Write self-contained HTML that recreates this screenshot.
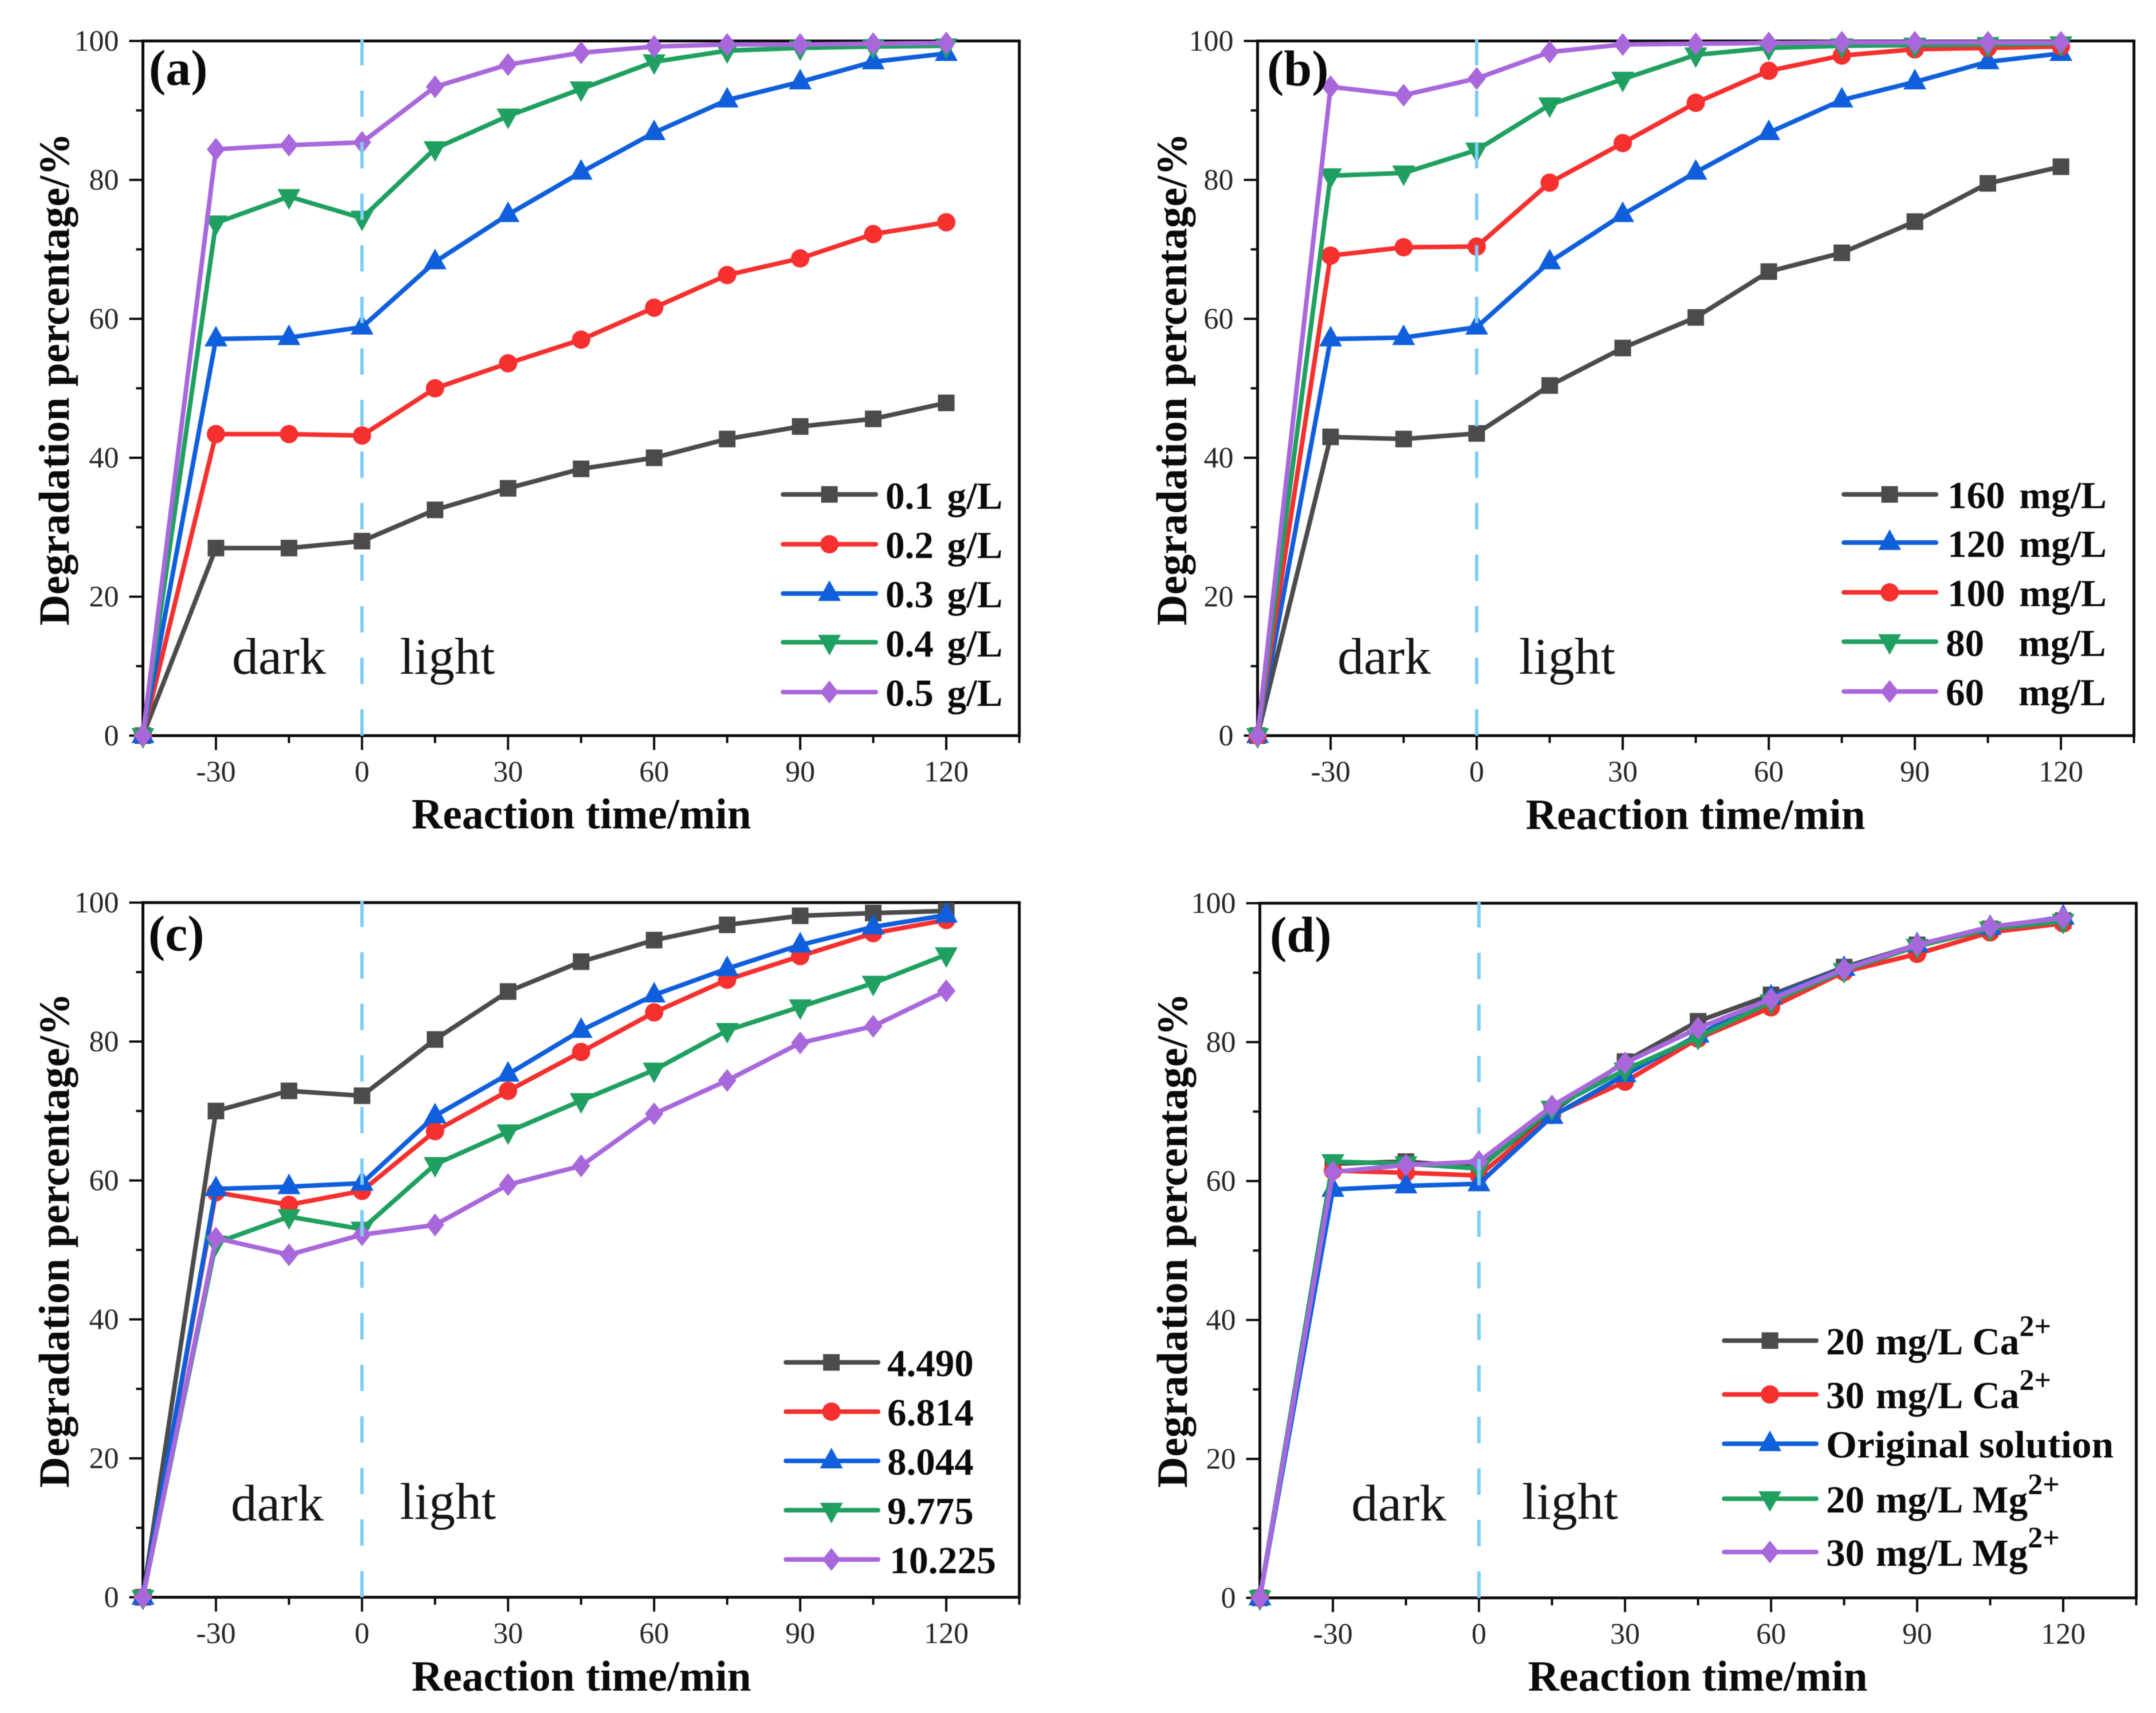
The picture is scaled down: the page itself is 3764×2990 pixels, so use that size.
<!DOCTYPE html>
<html lang="en">
<head>
<meta charset="utf-8">
<title>Degradation percentage vs reaction time</title>
<style>
  html, body { margin: 0; padding: 0; background: #fff; }
  body { width: 3764px; height: 2990px; overflow: hidden; }
  svg { display: block; filter: blur(0.9px); }
  text { font-family: "Liberation Serif", serif; fill: #0a0a0a; }
  .title { font-size: 75px; font-weight: bold; }
  .panel-label { font-size: 88px; font-weight: bold; }
  .phase { font-size: 90px; fill: #151515; }
  .leg { font-size: 67px; font-weight: bold; }
  .sup { font-size: 52px; font-weight: bold; }
  .tick-text { font-size: 52px; fill: #262626; }
  .ln { stroke-width: 8; fill: none; stroke-linecap: round; }
  .gray { stroke: #4b4b4b; fill: #4b4b4b; }
  .red { stroke: #f5302f; fill: #f5302f; }
  .blue { stroke: #0f5fdc; fill: #0f5fdc; }
  .green { stroke: #1fa060; fill: #1fa060; }
  .purple { stroke: #a868dc; fill: #a868dc; }
  use { stroke: none; }
</style>
</head>
<body>
<svg id="figure" xmlns="http://www.w3.org/2000/svg" width="3764" height="2990" viewBox="0 0 3764 2990">
  <defs>
    <rect id="mk-square" x="-14.5" y="-14.5" width="29" height="29" stroke="none"/>
    <circle id="mk-circle" r="16" stroke="none"/>
    <polygon id="mk-tri" points="0,-23 20,13 -20,13" stroke="none"/>
    <polygon id="mk-inv" points="-20,-13 20,-13 0,23" stroke="none"/>
    <polygon id="mk-diamond" points="0,-20 16,0 0,20 -16,0" stroke="none"/>
  </defs>

  <!-- Panel (a) -->
  <g id="panel-a">
    <g id="plot-a"></g>
    <text class="panel-label" x="260" y="148">(a)</text>
    <text class="title" x="1015" y="1446" text-anchor="middle" textLength="593" lengthAdjust="spacingAndGlyphs">Reaction time/min</text>
    <text class="title" transform="translate(120 662) rotate(-90)" text-anchor="middle" textLength="860" lengthAdjust="spacingAndGlyphs">Degradation percentage/%</text>
    <text class="phase" x="405" y="1176" textLength="164" lengthAdjust="spacingAndGlyphs">dark</text>
    <text class="phase" x="698" y="1176" textLength="166" lengthAdjust="spacingAndGlyphs">light</text>
    <g>
      <g><line class="ln gray" x1="1367" x2="1529" y1="863" y2="863"/><use href="#mk-square" class="gray" x="1448" y="863"/><text class="leg" x="1546" y="888" word-spacing="7">0.1 g/L</text></g>
      <g><line class="ln red" x1="1367" x2="1529" y1="950" y2="950"/><use href="#mk-circle" class="red" x="1448" y="950"/><text class="leg" x="1546" y="974" word-spacing="7">0.2 g/L</text></g>
      <g><line class="ln blue" x1="1367" x2="1529" y1="1036" y2="1036"/><use href="#mk-tri" class="blue" x="1448" y="1036"/><text class="leg" x="1546" y="1060" word-spacing="7">0.3 g/L</text></g>
      <g><line class="ln green" x1="1367" x2="1529" y1="1121" y2="1121"/><use href="#mk-inv" class="green" x="1448" y="1121"/><text class="leg" x="1546" y="1146" word-spacing="7">0.4 g/L</text></g>
      <g><line class="ln purple" x1="1367" x2="1529" y1="1208" y2="1208"/><use href="#mk-diamond" class="purple" x="1448" y="1208"/><text class="leg" x="1546" y="1232" word-spacing="7">0.5 g/L</text></g>
    </g>
  </g>

  <!-- Panel (b) -->
  <g id="panel-b">
    <g id="plot-b"></g>
    <text class="panel-label" x="2212" y="149">(b)</text>
    <text class="title" x="2960" y="1447" text-anchor="middle" textLength="593" lengthAdjust="spacingAndGlyphs">Reaction time/min</text>
    <text class="title" transform="translate(2071 662) rotate(-90)" text-anchor="middle" textLength="860" lengthAdjust="spacingAndGlyphs">Degradation percentage/%</text>
    <text class="phase" x="2335" y="1176" textLength="163" lengthAdjust="spacingAndGlyphs">dark</text>
    <text class="phase" x="2652" y="1176" textLength="168" lengthAdjust="spacingAndGlyphs">light</text>
    <g>
      <g><line class="ln gray" x1="3219" x2="3380" y1="863" y2="863"/><use href="#mk-square" class="gray" x="3299" y="863"/><text class="leg" x="3400" y="887" word-spacing="8">160 mg/L</text></g>
      <g><line class="ln blue" x1="3219" x2="3380" y1="947" y2="947"/><use href="#mk-tri" class="blue" x="3299" y="947"/><text class="leg" x="3400" y="972" word-spacing="8">120 mg/L</text></g>
      <g><line class="ln red" x1="3219" x2="3380" y1="1034" y2="1034"/><use href="#mk-circle" class="red" x="3299" y="1034"/><text class="leg" x="3400" y="1058" word-spacing="8">100 mg/L</text></g>
      <g><line class="ln green" x1="3219" x2="3380" y1="1120" y2="1120"/><use href="#mk-inv" class="green" x="3299" y="1120"/><text class="leg" x="3397" y="1145">80<tspan x="3524">mg/L</tspan></text></g>
      <g><line class="ln purple" x1="3219" x2="3380" y1="1207" y2="1207"/><use href="#mk-diamond" class="purple" x="3299" y="1207"/><text class="leg" x="3397" y="1231">60<tspan x="3524">mg/L</tspan></text></g>
    </g>
  </g>

  <!-- Panel (c) -->
  <g id="panel-c">
    <g id="plot-c"></g>
    <text class="panel-label" x="259" y="1659">(c)</text>
    <text class="title" x="1015" y="2951" text-anchor="middle" textLength="593" lengthAdjust="spacingAndGlyphs">Reaction time/min</text>
    <text class="title" transform="translate(120 2165) rotate(-90)" text-anchor="middle" textLength="864" lengthAdjust="spacingAndGlyphs">Degradation percentage/%</text>
    <text class="phase" x="403" y="2654" textLength="162" lengthAdjust="spacingAndGlyphs">dark</text>
    <text class="phase" x="698" y="2651" textLength="168" lengthAdjust="spacingAndGlyphs">light</text>
    <g>
      <g><line class="ln gray" x1="1372" x2="1533" y1="2378" y2="2378"/><use href="#mk-square" class="gray" x="1451.5" y="2378"/><text class="leg" x="1549" y="2402">4.490</text></g>
      <g><line class="ln red" x1="1372" x2="1533" y1="2464" y2="2464"/><use href="#mk-circle" class="red" x="1451.5" y="2464"/><text class="leg" x="1549" y="2488">6.814</text></g>
      <g><line class="ln blue" x1="1372" x2="1533" y1="2550" y2="2550"/><use href="#mk-tri" class="blue" x="1451.5" y="2550"/><text class="leg" x="1549" y="2574">8.044</text></g>
      <g><line class="ln green" x1="1372" x2="1533" y1="2636" y2="2636"/><use href="#mk-inv" class="green" x="1451.5" y="2636"/><text class="leg" x="1549" y="2660">9.775</text></g>
      <g><line class="ln purple" x1="1372" x2="1533" y1="2722" y2="2722"/><use href="#mk-diamond" class="purple" x="1451.5" y="2722"/><text class="leg" x="1553" y="2746" textLength="186" lengthAdjust="spacingAndGlyphs">10.225</text></g>
    </g>
  </g>

  <!-- Panel (d) -->
  <g id="panel-d">
    <g id="plot-d"></g>
    <text class="panel-label" x="2217" y="1661">(d)</text>
    <text class="title" x="2964" y="2951" text-anchor="middle" textLength="593" lengthAdjust="spacingAndGlyphs">Reaction time/min</text>
    <text class="title" transform="translate(2072 2165) rotate(-90)" text-anchor="middle" textLength="864" lengthAdjust="spacingAndGlyphs">Degradation percentage/%</text>
    <text class="phase" x="2359" y="2654" textLength="166" lengthAdjust="spacingAndGlyphs">dark</text>
    <text class="phase" x="2657" y="2651" textLength="168" lengthAdjust="spacingAndGlyphs">light</text>
    <g>
      <g><line class="ln gray" x1="3010" x2="3171" y1="2340" y2="2340"/><use href="#mk-square" class="gray" x="3090" y="2340"/><text class="leg" x="3188" y="2364" word-spacing="3">20 mg/L Ca<tspan class="sup" dy="-32">2+</tspan></text></g>
      <g><line class="ln red" x1="3010" x2="3171" y1="2434" y2="2434"/><use href="#mk-circle" class="red" x="3090" y="2434"/><text class="leg" x="3188" y="2458" word-spacing="3">30 mg/L Ca<tspan class="sup" dy="-32">2+</tspan></text></g>
      <g><line class="ln blue" x1="3010" x2="3171" y1="2520" y2="2520"/><use href="#mk-tri" class="blue" x="3090" y="2520"/><text class="leg" x="3188" y="2544" textLength="502" lengthAdjust="spacingAndGlyphs">Original solution</text></g>
      <g><line class="ln green" x1="3010" x2="3171" y1="2616" y2="2616"/><use href="#mk-inv" class="green" x="3090" y="2616"/><text class="leg" x="3188" y="2640" word-spacing="3">20 mg/L Mg<tspan class="sup" dy="-32">2+</tspan></text></g>
      <g><line class="ln purple" x1="3010" x2="3171" y1="2709" y2="2709"/><use href="#mk-diamond" class="purple" x="3090" y="2709"/><text class="leg" x="3188" y="2733" word-spacing="3">30 mg/L Mg<tspan class="sup" dy="-32">2+</tspan></text></g>
    </g>
  </g>
</svg>

<script>
// ---------- Shared axis data ----------
const times = [-45, -30, -15, 0, 15, 30, 45, 60, 75, 90, 105, 120];
const xMajorTicks = [-30, 0, 30, 60, 90, 120];
const xMinorTicks = [-45, -15, 15, 45, 75, 105, 135];
const yMajorTicks = [0, 20, 40, 60, 80, 100];
const yMinorTicks = [10, 30, 50, 70, 90];

// ---------- Panel (a): catalyst dosage ----------
const a_01 = [0, 27.0, 27.0, 28.0, 32.5, 35.6, 38.4, 40.0, 42.7, 44.5, 45.6, 47.9];
const a_02 = [0, 43.4, 43.4, 43.2, 50.0, 53.6, 57.0, 61.6, 66.3, 68.7, 72.2, 73.9];
const a_03 = [0, 57.1, 57.3, 58.8, 68.2, 75.0, 81.1, 86.8, 91.5, 94.1, 97.0, 98.2];
const a_04 = [0, 73.8, 77.6, 74.5, 84.5, 89.2, 93.1, 97.0, 98.6, 99.0, 99.2, 99.3];
const a_05 = [0, 84.4, 85.0, 85.4, 93.4, 96.6, 98.3, 99.2, 99.5, 99.5, 99.6, 99.7];

// ---------- Panel (b): initial concentration ----------
const b_160 = [0, 43.0, 42.7, 43.5, 50.4, 55.8, 60.2, 66.8, 69.5, 74.0, 79.5, 81.9];
const b_120 = [0, 57.1, 57.3, 58.8, 68.2, 75.0, 81.1, 86.8, 91.5, 94.1, 97.0, 98.2];
const b_100 = [0, 69.1, 70.3, 70.4, 79.6, 85.3, 91.1, 95.7, 97.9, 98.8, 99.0, 99.2];
const b_80 = [0, 80.6, 81.0, 84.3, 90.8, 94.5, 98.0, 99.0, 99.3, 99.4, 99.5, 99.6];
const b_60 = [0, 93.4, 92.2, 94.6, 98.4, 99.5, 99.6, 99.7, 99.8, 99.8, 99.8, 99.8];

// ---------- Panel (c): pH ----------
const c_4490 = [0, 70.0, 72.9, 72.2, 80.3, 87.2, 91.5, 94.6, 96.8, 98.1, 98.5, 98.8];
const c_6814 = [0, 58.3, 56.5, 58.5, 67.1, 72.9, 78.5, 84.2, 88.9, 92.3, 95.6, 97.5];
const c_8044 = [0, 58.8, 59.1, 59.6, 69.3, 75.3, 81.6, 86.7, 90.5, 93.9, 96.5, 98.2];
const c_9775 = [0, 51.0, 54.8, 53.0, 62.3, 67.0, 71.5, 75.9, 81.6, 85.0, 88.4, 92.5];
const c_10225 = [0, 51.7, 49.3, 52.2, 53.6, 59.4, 62.1, 69.6, 74.4, 79.8, 82.2, 87.3];

// ---------- Panel (d): coexisting ions ----------
const d_ca20 = [0, 62.5, 62.8, 62.0, 70.0, 77.2, 83.0, 86.8, 90.8, 94.0, 96.3, 97.5];
const d_ca30 = [0, 61.5, 61.2, 60.8, 69.5, 74.3, 80.5, 85.0, 90.1, 92.7, 95.8, 97.1];
const d_orig = [0, 58.8, 59.3, 59.6, 69.3, 75.3, 81.0, 86.5, 90.6, 94.0, 96.5, 98.0];
const d_mg20 = [0, 62.8, 62.5, 61.8, 70.5, 76.0, 80.7, 85.8, 90.3, 93.8, 96.3, 97.4];
const d_mg30 = [0, 61.3, 62.3, 62.8, 70.8, 77.0, 82.0, 86.2, 90.5, 94.0, 96.6, 97.9];

const SVG_NS = 'http://www.w3.org/2000/svg';

function drawPanel(id, box, seriesList) {
  const host = document.getElementById('plot-' + id);
  const xOf = function (t) { return box.left + (t + 45) / 180 * (box.right - box.left); };
  const yOf = function (v) { return box.bottom - v / 100 * (box.bottom - box.top); };

  // Frame
  const frame = document.createElementNS(SVG_NS, 'rect');
  
  
  frame.setAttribute('x', box.left);
  frame.setAttribute('y', box.top);
  frame.setAttribute('width', box.right - box.left);
  frame.setAttribute('height', box.bottom - box.top);
  frame.setAttribute('fill', 'none');
  frame.setAttribute('stroke', '#0c0c0c');
  frame.setAttribute('stroke-width', '5');
  host.appendChild(frame);

  // X ticks
  [[xMajorTicks, 25], [xMinorTicks, 13]].forEach(function (group) {
    group[0].forEach(function (t) {
      const tick = document.createElementNS(SVG_NS, 'line');
      
      
      tick.setAttribute('x1', xOf(t));
      tick.setAttribute('x2', xOf(t));
      tick.setAttribute('y1', box.bottom);
      tick.setAttribute('y2', box.bottom + group[1]);
      tick.setAttribute('stroke', '#0c0c0c');
      tick.setAttribute('stroke-width', '4');
      host.appendChild(tick);
    });
  });
  xMajorTicks.forEach(function (t) {
    const label = document.createElementNS(SVG_NS, 'text');
    
    
    label.setAttribute('class', 'tick-text');
    label.setAttribute('x', xOf(t));
    label.setAttribute('y', box.bottom + 80);
    label.setAttribute('text-anchor', 'middle');
    label.textContent = String(t);
    host.appendChild(label);
  });

  // Y ticks
  [[yMajorTicks, 24], [yMinorTicks, 12]].forEach(function (group) {
    group[0].forEach(function (v) {
      const tick = document.createElementNS(SVG_NS, 'line');
      
      
      tick.setAttribute('x1', box.left - group[1]);
      tick.setAttribute('x2', box.left);
      tick.setAttribute('y1', yOf(v));
      tick.setAttribute('y2', yOf(v));
      tick.setAttribute('stroke', '#0c0c0c');
      tick.setAttribute('stroke-width', '4');
      host.appendChild(tick);
    });
  });
  yMajorTicks.forEach(function (v) {
    const label = document.createElementNS(SVG_NS, 'text');
    
    
    label.setAttribute('class', 'tick-text');
    label.setAttribute('x', box.left - 42);
    label.setAttribute('y', yOf(v) + 17);
    label.setAttribute('text-anchor', 'end');
    label.textContent = String(v);
    host.appendChild(label);
  });

  // Series lines and markers
  seriesList.forEach(function (s) {
    const path = document.createElementNS(SVG_NS, 'polyline');
    
    
    path.setAttribute('class', 'ln ' + s.color);
    path.setAttribute('stroke-linejoin', 'round');
    path.setAttribute('points', s.values.map(function (v, i) {
      return xOf(times[i]).toFixed(1) + ',' + yOf(v).toFixed(1);
    }).join(' '));
    path.style.fill = 'none';
    host.appendChild(path);
    s.values.forEach(function (v, i) {
      const mark = document.createElementNS(SVG_NS, 'use');
      
      
      mark.setAttribute('href', '#mk-' + s.marker);
      mark.setAttribute('class', s.color);
      mark.setAttribute('x', xOf(times[i]));
      mark.setAttribute('y', yOf(v));
      host.appendChild(mark);
    });
  });

  // Dark / light divider
  const divider = document.createElementNS(SVG_NS, 'line');
  
  
  divider.setAttribute('x1', xOf(0));
  divider.setAttribute('x2', xOf(0));
  divider.setAttribute('y1', box.bottom);
  divider.setAttribute('y2', box.top - 4);
  divider.setAttribute('stroke', '#7fcdf6');
  divider.setAttribute('stroke-width', '6');
  divider.setAttribute('stroke-dasharray', '46 44');
  host.appendChild(divider);
}

drawPanel('a', { left: 249.5, right: 1779.5, top: 71.5, bottom: 1284 }, [
  { name: '0.1-g-l', color: 'gray', marker: 'square', values: a_01 },
  { name: '0.2-g-l', color: 'red', marker: 'circle', values: a_02 },
  { name: '0.3-g-l', color: 'blue', marker: 'tri', values: a_03 },
  { name: '0.4-g-l', color: 'green', marker: 'inv', values: a_04 },
  { name: '0.5-g-l', color: 'purple', marker: 'diamond', values: a_05 }
]);
drawPanel('b', { left: 2195.5, right: 3725.5, top: 71.5, bottom: 1284 }, [
  { name: '160-mg-l', color: 'gray', marker: 'square', values: b_160 },
  { name: '120-mg-l', color: 'blue', marker: 'tri', values: b_120 },
  { name: '100-mg-l', color: 'red', marker: 'circle', values: b_100 },
  { name: '80-mg-l', color: 'green', marker: 'inv', values: b_80 },
  { name: '60-mg-l', color: 'purple', marker: 'diamond', values: b_60 }
]);
drawPanel('c', { left: 249.5, right: 1779.5, top: 1575.5, bottom: 2788 }, [
  { name: '4.490', color: 'gray', marker: 'square', values: c_4490 },
  { name: '6.814', color: 'red', marker: 'circle', values: c_6814 },
  { name: '8.044', color: 'blue', marker: 'tri', values: c_8044 },
  { name: '9.775', color: 'green', marker: 'inv', values: c_9775 },
  { name: '10.225', color: 'purple', marker: 'diamond', values: c_10225 }
]);
drawPanel('d', { left: 2199.5, right: 3729.5, top: 1576.5, bottom: 2789 }, [
  { name: '20-ca', color: 'gray', marker: 'square', values: d_ca20 },
  { name: '30-ca', color: 'red', marker: 'circle', values: d_ca30 },
  { name: 'original', color: 'blue', marker: 'tri', values: d_orig },
  { name: '20-mg', color: 'green', marker: 'inv', values: d_mg20 },
  { name: '30-mg', color: 'purple', marker: 'diamond', values: d_mg30 }
]);
</script>
</body>
</html>
